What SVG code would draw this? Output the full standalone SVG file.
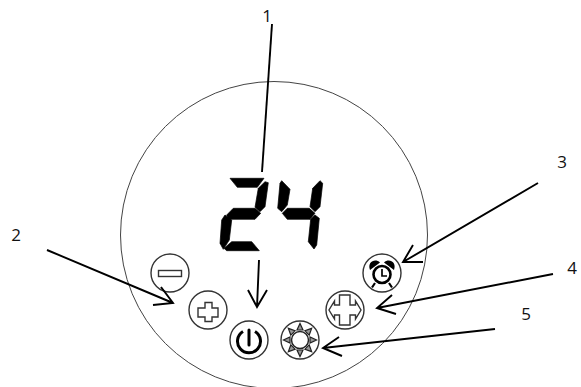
<svg xmlns="http://www.w3.org/2000/svg" width="581" height="387" viewBox="0 0 581 387">
<style>
.lbl{font:17px "Open Sans","Liberation Sans",sans-serif;fill:#111;text-anchor:middle}
.btn{fill:#fff;stroke:#333;stroke-width:1.4}
.ar{fill:none;stroke:#000;stroke-width:1.9}
.seg{fill:#000;stroke:#000;stroke-width:.7;stroke-linejoin:round}
.ray{fill:#999;stroke:#222;stroke-width:1.2}
</style>
<rect width="581" height="387" fill="#fff"/>
<g id="panel"><circle cx="274" cy="235" r="153.5" fill="#fff" stroke="#444" stroke-width="1"/></g>
<g id="display">
<polygon class="seg" points="230,178.300 264,178.300 257.300,187.300 237.300,187.300"/>
<polygon class="seg" points="265,181.700 268.300,182.700 265,206.700 260,211.700 255,207.300 258.300,188.300"/>
<polygon class="seg" points="233.300,208.300 255,208.300 260.700,213.300 255,219.300 228.300,219.300 226.700,215"/>
<polygon class="seg" points="225,215 231.700,220 229.300,240 223.300,249.300 220,243.300 221.700,220"/>
<polygon class="seg" points="231.700,241.700 251.700,241.700 259.300,250.700 226.700,250.700 224,248.300"/>
<polygon class="seg" points="281.700,180.700 290,189.300 287.300,205 281.700,211.700 277.700,208.300 280,183.300"/>
<polygon class="seg" points="287.300,208.300 309.300,208.300 315,213.300 310,219.300 287.300,219.300 282.300,213.300"/>
<polygon class="seg" points="320,180.700 322.700,183.300 320,206.700 315,211.700 310,206.700 312.700,188.300"/>
<polygon class="seg" points="315,215 319.300,218.300 316.700,245 314,249 308.300,241.700 310.700,219.300"/>
</g>
<g id="btn-minus"><circle class="btn" cx="170" cy="273" r="19"/><rect x="158.500" y="270.500" width="23" height="6" fill="#fff" stroke="#333" stroke-width="1.400"/></g>
<g id="btn-plus"><circle class="btn" cx="208" cy="310" r="19"/><path d="M205 302.500H212V308H218V317H212V321.500H205V317H198V308H205Z" fill="#fff" stroke="#333" stroke-width="1.400"/></g>
<g id="btn-power"><circle class="btn" cx="249" cy="340" r="19"/><path d="M243 331.500A11.500 11.500 0 1 0 255 331.500" fill="none" stroke="#000" stroke-width="3"/><path d="M249 330V345" stroke="#000" stroke-width="3" stroke-linecap="round"/></g>
<g id="btn-alarm"><circle class="btn" cx="382" cy="273" r="19"/><circle cx="382" cy="274.500" r="8.500" fill="#fff" stroke="#000" stroke-width="2.600"/><path d="M382 269V276H387" fill="none" stroke="#000" stroke-width="1.700"/><path d="M370 270C367 262 375 258 380 262.500ZM394 270C397 262 389 258 384 262.500Z" fill="#000"/><path d="M375 283L372 287.500M389 283L392 287.500" stroke="#000" stroke-width="2.200"/></g>
<g id="btn-arrows"><circle class="btn" cx="345" cy="310" r="19"/><path d="M339.500 295H350V305H355.500V301L361 310L355.500 319V315H350V325H339.500V315H334.500V319L329 310L334.500 301V305H339.500Z" fill="#fff" stroke="#333" stroke-width="1.400"/></g>
<g id="btn-sun"><circle class="btn" cx="300" cy="340" r="19"/><circle cx="300" cy="340" r="8.500" fill="#fff" stroke="#222" stroke-width="1.500"/>
<path class="ray" d="M297 330L303 330L300 323.500Z"/><path class="ray" d="M297 330L303 330L300 323.500Z" transform="rotate(45 300 340)"/><path class="ray" d="M297 330L303 330L300 323.500Z" transform="rotate(90 300 340)"/><path class="ray" d="M297 330L303 330L300 323.500Z" transform="rotate(135 300 340)"/><path class="ray" d="M297 330L303 330L300 323.500Z" transform="rotate(180 300 340)"/><path class="ray" d="M297 330L303 330L300 323.500Z" transform="rotate(225 300 340)"/><path class="ray" d="M297 330L303 330L300 323.500Z" transform="rotate(270 300 340)"/><path class="ray" d="M297 330L303 330L300 323.500Z" transform="rotate(315 300 340)"/></g>
<g id="connectors">
<path class="ar" d="M272 24L262 172"/>
<path class="ar" d="M47 250L173 303M161 287L173 303L153 305"/>
<path class="ar" d="M259 260L257 307M248 290L257 307L267 290"/>
<path class="ar" d="M538 183L403 262M413 245L403 262L423 262"/>
<path class="ar" d="M553 274L377 308M392 295L377 308L396 314"/>
<path class="ar" d="M495 329L323 348M339 337L323 348L342 356"/>
</g>
<g id="labels">
<text class="lbl" x="267" y="22">1</text>
<text class="lbl" x="16" y="241">2</text>
<text class="lbl" x="562" y="168">3</text>
<text class="lbl" x="572" y="274">4</text>
<text class="lbl" x="526" y="320">5</text>
</g>
</svg>
